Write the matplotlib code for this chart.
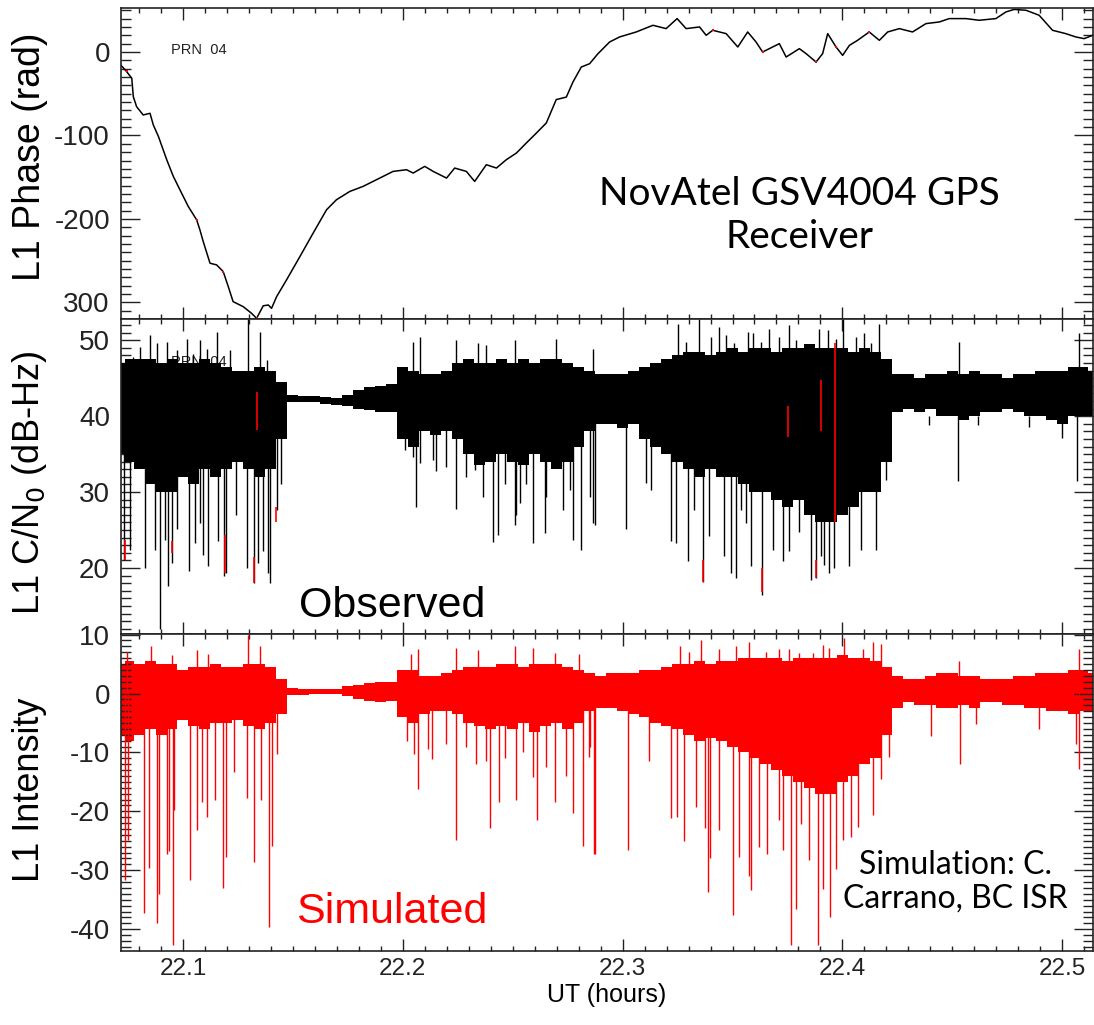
import numpy as np
import matplotlib
matplotlib.use("Agg")
import matplotlib.pyplot as plt
from matplotlib.ticker import MultipleLocator, FixedLocator, FixedFormatter

plt.rcParams['font.family'] = ['Liberation Sans', 'DejaVu Sans']
plt.rcParams['axes.unicode_minus'] = False

# ---------------- data ----------------
# top panel: L1 phase (rad)
phase_t = [22.0717, 22.0744, 22.0767, 22.0774, 22.0789, 22.0819, 22.0850, 22.0865, 22.0888,
           22.0926, 22.0956, 22.0986, 22.1024, 22.1062, 22.1077, 22.1092, 22.1123, 22.1153,
           22.1183, 22.1206, 22.1228, 22.1274, 22.1312, 22.1335, 22.1365, 22.1388, 22.1403,
           22.1426, 22.1471, 22.1532, 22.1592, 22.1653, 22.1698, 22.1759, 22.1819, 22.1880,
           22.1956, 22.2017, 22.2047, 22.2100, 22.2138, 22.2199, 22.2236, 22.2289, 22.2327,
           22.2380, 22.2426, 22.2471, 22.2517, 22.2562, 22.2608, 22.2653, 22.2698, 22.2744,
           22.2774, 22.2812, 22.2850, 22.2888, 22.2941, 22.2986, 22.3062, 22.3138, 22.3198,
           22.3248, 22.3289, 22.3350, 22.3380, 22.3410, 22.3471, 22.3524, 22.3569, 22.3607,
           22.3637, 22.3713, 22.3744, 22.3804, 22.3835, 22.3880, 22.3910, 22.3933, 22.3971,
           22.4001, 22.4032, 22.4069, 22.4122, 22.4168, 22.4206, 22.4259, 22.4319, 22.4380,
           22.4441, 22.4486, 22.4562, 22.4622, 22.4698, 22.4744, 22.4781, 22.4835, 22.4895,
           22.4956, 22.5016, 22.5062, 22.5100, 22.5138]
phase_v = [-15.6, -23.6, -31.5, -53.5, -65.5, -75.4, -73.4, -87.4, -101,
           -129, -149, -165, -185, -201, -213, -227, -253, -255,
           -263, -281, -299, -305, -313, -319, -304, -303, -307,
           -293, -273, -245, -217, -189, -177, -167, -161, -153,
           -143, -141, -145, -137, -143, -151, -139, -143, -155,
           -135, -139, -129, -121, -109, -97, -85, -57, -54,
           -36, -18, -14, -2, 12, 18, 24, 32, 28,
           40, 28, 30, 20, 26, 22, 6, 24, 12,
           0, 10, -6, 4, -2, -12, -2, 22, 6,
           -4, 8, 14, 24, 14, 24, 28, 24, 34,
           36, 40, 40, 38, 40, 48, 51, 50, 44,
           26, 22, 18, 16, 20]
phase_red_t = [22.0744, 22.1062, 22.1183, 22.1335, 22.3410, 22.3637, 22.3880, 22.3971, 22.4122]
phase_red_v = [-23, -201, -263, -319, 26, 0, -12, 6, 24]

# time grid of the band envelopes (hours UT)
band_t = np.concatenate([[22.0719], np.round(np.arange(22.075, 22.5101, 0.005), 3), [22.5139]])

# middle panel: L1 C/N0 (dB-Hz), dense band upper / lower edges
cn_hi = [47.0,
         47.5, 47.5, 47.5, 47.0, 47.5, 47.0, 47.0, 47.5, 47.0, 46.5, 46.0, 46.0, 46.5, 46.0, 44.5,
         42.8, 42.7, 42.6, 42.5, 42.4, 42.8, 43.5, 43.8, 44.0, 44.3,
         46.5, 46.0, 45.5, 45.5, 46.0, 47.0, 47.5, 47.0, 47.0, 47.5, 47.0, 47.5, 47.0, 47.5, 47.5, 47.0,
         46.5, 46.0, 45.5, 45.5, 45.5, 46.0, 46.5, 47.0, 47.5, 48.0, 48.5, 48.5, 48.0, 48.5, 49.0, 48.5,
         49.0, 49.0, 48.5, 49.0, 49.0, 49.5, 49.0, 49.0, 49.0, 48.5, 49.0, 48.5, 47.5,
         45.5, 45.5, 45.0, 45.5, 45.5, 46.0, 45.5, 46.0, 45.5, 45.5, 45.0, 45.5, 45.5, 46.0, 46.0,
         46.0, 46.5, 46.5,
         46.0]
cn_lo = [35,
         34, 33, 31, 30, 30, 32, 31, 33, 32, 33, 34, 33, 32, 33, 37,
         41.8, 41.9, 41.8, 41.6, 41.5, 41.4, 41.0, 40.8, 40.5, 40.6,
         37, 36, 38, 37.5, 38, 37, 35, 33.5, 34, 35, 34, 33.5, 35, 34, 33, 34,
         36, 38, 39, 39, 38.5, 39, 37, 36, 35, 34, 33, 32, 33, 32, 32, 31,
         30, 30, 29, 28, 29, 27, 26, 26, 27, 28, 30, 30, 34,
         40.5, 41, 40.5, 41, 40, 40, 39.5, 40, 40.5, 40.5, 41, 40.5, 40, 40, 39.5,
         39, 40, 40,
         40]
cn_down_t = [22.0732, 22.0759, 22.0827, 22.0873, 22.0895, 22.0918, 22.0933, 22.0948, 22.0974,
             22.1029, 22.1054, 22.1077, 22.1089, 22.1115, 22.1160, 22.1186, 22.1195, 22.1241,
             22.1289, 22.1323, 22.1342, 22.1365, 22.1388, 22.1398, 22.1426, 22.1448,
             22.2009, 22.2047, 22.2062, 22.2077, 22.2138, 22.2153, 22.2198, 22.2241, 22.2289,
             22.2327, 22.2365, 22.2410, 22.2433, 22.2463, 22.2509, 22.2517, 22.2532, 22.2562,
             22.2592, 22.2645, 22.2653, 22.2729, 22.2759, 22.2774, 22.2812, 22.2850, 22.2865,
             22.2873, 22.3016, 22.3107, 22.3130, 22.3218,
             22.3243, 22.3296, 22.3327, 22.3368, 22.3395, 22.3463, 22.3493, 22.3516, 22.3539,
             22.3562, 22.3584, 22.3634, 22.3683, 22.3728, 22.3759, 22.3804, 22.3857, 22.3880,
             22.3902, 22.3917, 22.3937, 22.3963, 22.4031, 22.4084, 22.4152, 22.4198,
             22.4395, 22.4528, 22.4615, 22.4850, 22.5001, 22.5069]
cn_down_v = [21.1, 22.4, 20.0, 22.4, 12.0, 23.7, 17.6, 20.7, 25.1,
             19.6, 23.3, 25.9, 21.7, 20.2, 23.5, 18.9, 19.3, 27.0,
             20.0, 18.0, 20.7, 22.2, 19.3, 18.0, 27.6, 31.0,
             35.5, 34.6, 28.0, 33.8, 34.2, 32.8, 33.3, 27.8, 32.0,
             32.9, 29.4, 23.4, 24.4, 31.1, 25.7, 27.0, 28.5, 31.1,
             23.3, 24.6, 29.4, 27.6, 30.3, 23.7, 22.4, 29.4, 25.9,
             25.7, 25.1, 31.2, 30.3, 23.5,
             23.3, 20.9, 27.6, 18.2, 24.2, 21.6, 19.3, 18.7, 27.6,
             25.9, 20.2, 16.5, 22.4, 20.9, 22.2, 24.8, 18.4, 18.7,
             21.6, 20.4, 19.3, 20.0, 20.2, 22.4, 22.4, 31.6,
             38.9, 31.4, 38.9, 38.6, 37.1, 31.4]
cn_up_t = [22.0774, 22.0804, 22.0850, 22.0880, 22.0926, 22.0971, 22.1016, 22.1047, 22.1077,
           22.1107, 22.1153, 22.1213, 22.1294, 22.1350, 22.1380, 22.2047, 22.2077, 22.2244,
           22.2342, 22.2380, 22.2509, 22.2698, 22.2865, 22.3251, 22.3289, 22.3349, 22.3402,
           22.3440, 22.3471, 22.3509, 22.3569, 22.3592, 22.3630, 22.3668, 22.3713, 22.3759,
           22.3789, 22.3895, 22.3933, 22.3971, 22.4001, 22.4062, 22.4100, 22.4130, 22.4168,
           22.4531, 22.5077]
cn_up_v = [47.8, 49.1, 50.7, 49.6, 49.8, 48.7, 50.2, 48.2, 50.0,
           48.9, 51.1, 48.7, 52.8, 51.1, 47.4, 49.8, 50.4, 50.0,
           49.6, 49.4, 50.0, 50.2, 48.9, 52.2, 49.8, 52.8, 50.4,
           51.8, 50.7, 49.6, 51.1, 50.9, 49.8, 51.5, 50.4, 52.0,
           50.0, 51.5, 51.3, 50.2, 52.8, 50.4, 50.9, 49.6, 52.2,
           49.8, 50.9]
cn_red_t = [22.0736, 22.0950, 22.1190, 22.1323, 22.1335, 22.1424, 22.3368, 22.3634, 22.3751,
            22.3880, 22.3902, 22.3968]
cn_red_lo = [21.0, 22.0, 19.3, 18.0, 38.2, 26.0, 18.2, 16.8, 37.2, 18.7, 38.1, 26.0]
cn_red_hi = [23.7, 23.5, 24.4, 21.5, 43.2, 28.0, 21.0, 20.0, 41.4, 21.0, 44.7, 49.6]

# bottom panel: simulated L1 intensity, dense band upper / lower edges
int_hi = [5.0,
          5.5, 5.0, 5.5, 5.0, 5.0, 4.0, 4.5, 4.5, 5.0, 4.5, 4.5, 5.0, 5.0, 4.5, 2.5,
          0.9, 0.8, 0.7, 0.7, 0.7, 1.2, 1.5, 1.8, 2.0, 2.0,
          4.0, 4.0, 3.0, 3.0, 3.5, 4.0, 4.5, 4.5, 4.5, 5.0, 5.0, 4.5, 5.0, 5.0, 5.0, 4.5,
          4.0, 3.5, 3.0, 3.5, 3.5, 3.5, 4.0, 4.0, 4.5, 5.0, 5.0, 5.5, 5.0, 5.5, 5.5, 6.0,
          6.0, 6.0, 6.0, 5.5, 6.0, 6.0, 6.0, 6.0, 6.5, 6.0, 6.0, 5.5, 4.5,
          3.0, 2.5, 2.5, 3.0, 3.5, 3.5, 3.0, 3.0, 2.5, 2.5, 2.5, 3.0, 3.0, 3.5, 3.5,
          3.5, 4.0, 4.0,
          3.5]
int_lo = [-7,
          -8, -7, -6, -7, -6, -4.5, -5.5, -6, -5, -5, -4.5, -5.5, -6, -5, -3.5,
          -0.3, -0.2, -0.1, 0.0, 0.0, -0.4, -1.0, -1.2, -1.5, -1.2,
          -4, -5, -3.5, -3, -3, -3.5, -5, -5.5, -6, -5.5, -6, -5, -6.5, -5.5, -5, -6,
          -5, -3, -2.5, -2.5, -3, -3.5, -4, -5, -5.5, -6, -7, -8, -7.5, -8, -9, -10,
          -11, -12, -13, -14, -15, -16, -17, -17, -15, -14, -12, -11, -7,
          -2.5, -1.5, -2, -2, -2.5, -2.5, -2, -2.5, -1.5, -1.5, -2, -2, -2.5, -2.5, -3,
          -3, -3.5, -3,
          -3]
int_down_t = [22.0736, 22.0751, 22.0824, 22.0847, 22.0883, 22.0892, 22.0926, 22.0938, 22.0953,
              22.0959, 22.1032, 22.1062, 22.1085, 22.1107, 22.1145, 22.1180, 22.1195, 22.1233,
              22.1289, 22.1323, 22.1357, 22.1391, 22.1403, 22.1426,
              22.2017, 22.2051, 22.2069, 22.2115, 22.2135, 22.2198, 22.2241, 22.2289, 22.2335,
              22.2380, 22.2398, 22.2438, 22.2463, 22.2517, 22.2547, 22.2592, 22.2612, 22.2653,
              22.2691, 22.2744, 22.2774, 22.2819, 22.2849, 22.2850, 22.2868, 22.2873, 22.3024,
              22.3122, 22.3221, 22.3246, 22.3281, 22.3334, 22.3377, 22.3387, 22.3399, 22.3437,
              22.3501, 22.3531, 22.3574, 22.3584, 22.3622, 22.3657, 22.3713, 22.3731, 22.3766,
              22.3789, 22.3812, 22.3849, 22.3890, 22.3910, 22.3943, 22.3971, 22.4001, 22.4039,
              22.4069, 22.4137, 22.4175, 22.4210, 22.4402, 22.4536, 22.4607, 22.4895, 22.5062,
              22.5077]
int_down_v = [-31.6, -24.8, -37.3, -29.6, -39.0, -34.0, -27.2, -26.8, -42.7,
              -19.8, -31.6, -23.1, -18.4, -20.9, -18.1, -33.0, -27.7, -13.3,
              -17.8, -28.6, -18.1, -39.6, -25.8, -10.2,
              -8.0, -10.2, -16.2, -9.5, -11.1, -8.5, -24.9, -9.0, -12.0,
              -11.4, -22.9, -18.4, -11.0, -18.1, -10.0, -14.2, -21.5, -12.5,
              -18.4, -14.0, -20.2, -25.9, -10.8, -9.0, -27.2, -27.2, -26.6,
              -11.4, -21.2, -20.9, -25.0, -19.3, -22.9, -33.7, -28.0, -23.2,
              -37.6, -27.8, -30.9, -33.4, -26.0, -27.2, -21.5, -26.6, -42.7,
              -36.5, -22.1, -28.3, -42.7, -33.1, -37.9, -29.7, -24.9, -24.3,
              -22.7, -20.7, -14.5, -10.8, -7.2, -12.0, -5.2, -6.0, -8.5,
              -12.8]
int_up_t = [22.0745, 22.0853, 22.0950, 22.1062, 22.1115, 22.1294, 22.1350, 22.2039, 22.2069,
            22.2241, 22.2342, 22.2509, 22.2592, 22.2691, 22.2803, 22.3259, 22.3304, 22.3357,
            22.3440, 22.3516, 22.3577, 22.3652, 22.3713, 22.3758, 22.3804, 22.3865, 22.3910,
            22.3940, 22.4008, 22.4092, 22.4137, 22.4175, 22.4531, 22.5077]
int_up_v = [7.0, 8.1, 6.5, 7.3, 6.7, 9.9, 8.1, 6.7, 7.6,
            7.8, 7.3, 8.1, 7.8, 6.9, 6.7, 8.1, 7.0, 9.0,
            7.5, 8.0, 8.7, 7.0, 7.5, 7.6, 6.9, 6.8, 8.2,
            7.8, 9.5, 7.5, 8.7, 8.4, 5.6, 7.6]

# ---------------- figure ----------------
W, H = 1094, 1025
fig = plt.figure(figsize=(W / 100, H / 100), dpi=100)

def px_axes(top, bottom):
    return fig.add_axes([121 / W, 1 - bottom / H, (1093 - 121) / W, (bottom - top) / H])

ax1 = px_axes(8, 319)
ax2 = px_axes(319, 634)
ax3 = px_axes(634, 951)

# top: phase
ax1.plot(phase_t, phase_v, color='black', lw=1.1)
ax1.plot(phase_red_t, phase_red_v, 's', color='red', ms=1.6, mew=0)
ax1.text(22.0945, 2.4, 'PRN  04', fontsize=10.5, color='#222222', va='center')
ax1.text(22.3804, -196, 'NovAtel GSV4004 GPS\nReceiver', fontsize=28, family=['Lato', 'DejaVu Sans'],
         ha='center', va='center', linespacing=1.25)

# middle: C/N0
ax2.text(22.0945, 47.1, 'PRN  04', fontsize=10.5, color='#222222', va='center', zorder=0)
ax2.fill_between(band_t, cn_lo, cn_hi, step='mid', color='black', lw=0, zorder=2)
ax2.vlines(cn_down_t, cn_down_v, 40, color='black', lw=1.0, zorder=2)
ax2.vlines(cn_up_t, 40, cn_up_v, color='black', lw=1.0, zorder=2)
ax2.vlines(cn_red_t, cn_red_lo, cn_red_hi, color='red', lw=1.2, zorder=3)
ax2.text(22.195, 15.0, 'Observed', fontsize=31, ha='center', va='center')

# bottom: simulated intensity
ax3.fill_between(band_t, int_lo, int_hi, step='mid', color='red', lw=0)
ax3.vlines(int_down_t, int_down_v, 0, color='red', lw=1.0)
ax3.vlines(int_up_t, 0, int_up_v, color='red', lw=1.0)
ax3.text(22.195, -37.0, 'Simulated', fontsize=31, color='red', ha='center', va='center')
ax3.text(22.4513, -31.9, 'Simulation: C.\nCarrano, BC ISR', fontsize=23,
         family=['Lato', 'DejaVu Sans'], ha='center', va='center', linespacing=1.15)

# ---------------- axes styling ----------------
for ax in (ax1, ax2, ax3):
    ax.set_xlim(22.0718, 22.514)
    ax.xaxis.set_major_locator(MultipleLocator(0.1))
    ax.xaxis.set_minor_locator(MultipleLocator(0.01))
    ax.tick_params(which='both', direction='in', top=True, right=True, width=1.0, colors='#222222')
    ax.tick_params(axis='x', which='major', length=8.5)
    ax.tick_params(axis='x', which='minor', length=3.6)
    ax.tick_params(axis='y', which='major', length=14, labelsize=20, pad=8)
    ax.tick_params(axis='y', which='minor', length=7)
    for s in ax.spines.values():
        s.set_linewidth(1.2)
        s.set_color('#222222')

ax1.set_ylim(-319.8, 52.7)
ax1.yaxis.set_major_locator(FixedLocator([0, -100, -200, -300]))
ax1.yaxis.set_major_formatter(FixedFormatter(['0', '-100', '-200', '300']))
ax1.yaxis.set_minor_locator(MultipleLocator(10))

ax2.set_ylim(11.3, 52.8)
ax2.yaxis.set_major_locator(FixedLocator([20, 30, 40, 50]))
ax2.yaxis.set_minor_locator(MultipleLocator(1))

ax3.set_ylim(-43.7, 10.1)
ax3.yaxis.set_major_locator(FixedLocator([-40, -30, -20, -10, 0, 10]))
ax3.yaxis.set_minor_locator(MultipleLocator(1))

ax1.tick_params(axis='x', labelbottom=False)
ax2.tick_params(axis='x', labelbottom=False)
ax3.set_xticks([22.1, 22.2, 22.3, 22.4, 22.5])
ax3.set_xticklabels(['22.1', '22.2', '22.3', '22.4', '22.5'], fontsize=17.5)
ax3.tick_params(axis='x', pad=5)
ax3.set_xlabel('UT (hours)', fontsize=18, labelpad=2)

# y labels
fig.text(30 / W, 1 - 157 / H, 'L1 Phase (rad)', rotation=90, fontsize=27, ha='center', va='center')
fig.text(30 / W, 1 - 483 / H, 'L1 C/N$_0$ (dB-Hz)', rotation=90, fontsize=26, ha='center', va='center')
fig.text(30 / W, 1 - 790 / H, 'L1 Intensity', rotation=90, fontsize=26, ha='center', va='center')

fig.savefig('out.png', dpi=100)
